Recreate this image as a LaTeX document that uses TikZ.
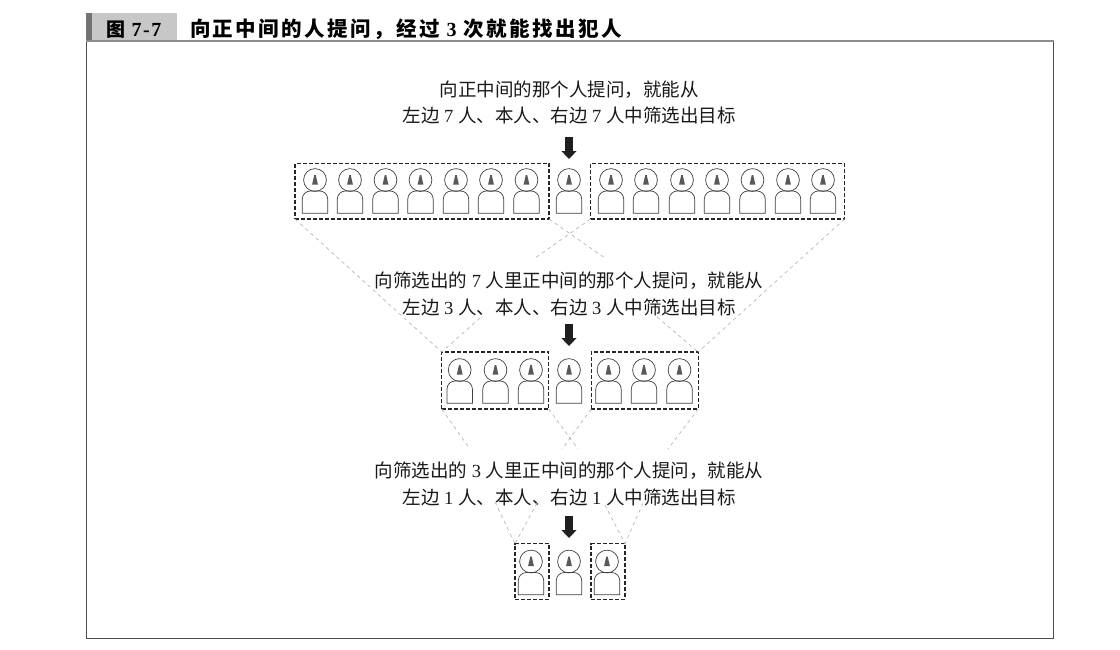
\documentclass[tikz,border=0pt]{standalone}
\usepackage{fontspec}
\setmainfont{Liberation Serif}
\newfontfamily\cjk{Noto Sans CJK SC}
\newfontfamily\cjkspaced[LetterSpace=12]{Noto Sans CJK SC}
\newfontfamily\serifspaced[LetterSpace=8]{Liberation Serif}
\newcommand{\dg}[1]{{\rmfamily\fontsize{18.5}{22}\selectfont\ #1\ }}
\newcommand{\dgb}[1]{{\serifspaced\bfseries\fontsize{20}{22}\selectfont\ #1\ }}
\definecolor{ink}{gray}{0.25}
\definecolor{conegray}{gray}{0.35}
\definecolor{linkgray}{gray}{0.72}
\definecolor{bandlight}{gray}{0.78}
\definecolor{banddark}{gray}{0.45}
\definecolor{framegray}{gray}{0.3}
\definecolor{topgray}{gray}{0.55}
\tikzset{
  x=1pt,y=-1pt,
  lbl/.style={inner sep=0pt,outer sep=0pt,font=\cjk\fontsize{18.5}{22}\selectfont,text=black!90,anchor=center},
  ttl/.style={inner sep=0pt,outer sep=0pt,text=black,anchor=west},
  dbox/.style={draw=black!85,line width=1.2pt,dash pattern=on 4pt off 2pt,inner sep=0pt,outer sep=0pt,minimum height=#1},
  dbox/.default=55.5pt,
  link/.style={draw=linkgray,line width=0.7pt,dash pattern=on 3.5pt off 3.5pt},
  person/.pic={
    \draw[ink,line width=0.7pt] (-12.7,33.3) [rounded corners=8pt] -- (-12.7,11) -- (12.7,11) [sharp corners] -- (12.7,33.3) -- cycle;
    \draw[ink,line width=0.7pt] (0,0) circle[radius=11.4];
    \fill[conegray] (-0.7,-5) -- (0.7,-5) -- (2.9,4.5) -- (-2.9,4.5) -- cycle;
  },
  downarr/.pic={
    \fill[black!88] (-3.9,0) -- (3.9,0) -- (3.9,14) -- (7.6,14) -- (0,22) -- (-7.6,14) -- (-3.9,14) -- cycle;
  },
}
\begin{document}
\begin{tikzpicture}
\useasboundingbox (0,0) rectangle (1120,649);
\fill[white] (0,0) rectangle (1120,649);
% header
\fill[bandlight] (86,13) rectangle (177,41);
\fill[banddark] (86,13) rectangle (91.5,41);
\node[ttl,font=\cjk\bfseries\fontsize{19}{22}\selectfont] (figno) at (106,29.5) {图\dgb{7-7}};
\node[ttl,font=\cjkspaced\bfseries\fontsize{20.5}{22}\selectfont] (title) at (190,29.5) {向正中间的人提问，经过\dgb{3}次就能找出犯人};
% frame
\draw[framegray,line width=0.9pt] (86.4,41) -- (86.4,638.6) -- (1053.4,638.6) -- (1053.4,41);
\draw[topgray,line width=1.5pt] (86,41) -- (1054,41);
% texts
\node[lbl] (t1a) at (569,90) {向正中间的那个人提问，就能从};
\node[lbl] (t1b) at (569,115) {左边\dg{7}人、本人、右边\dg{7}人中筛选出目标};
\node[lbl] (t2a) at (569,281) {向筛选出的\dg{7}人里正中间的那个人提问，就能从};
\node[lbl] (t2b) at (569,307) {左边\dg{3}人、本人、右边\dg{3}人中筛选出目标};
\node[lbl] (t3a) at (569,471) {向筛选出的\dg{3}人里正中间的那个人提问，就能从};
\node[lbl] (t3b) at (569,497) {左边\dg{1}人、本人、右边\dg{1}人中筛选出目标};
% arrows
\pic at (569,137) {downarr};
\pic at (569,324) {downarr};
\pic at (569,516) {downarr};
% people row 1
\foreach \px in {315,350,385.5,420.5,456,491,526.5,569,611,646,682,717,752.5,788,823}
  \pic at (\px,180) {person};
% people row 2
\foreach \px in {459.7,495.5,531,569,608.5,644,679.5}
  \pic at (\px,370) {person};
% people row 3
\foreach \px in {531,569,607}
  \pic at (\px,561.5) {person};
% dashed boxes
\node[dbox,minimum width=254pt] (a) at (422,191.3) {};
\node[dbox,minimum width=254pt] (b) at (717.5,191.3) {};
\node[dbox=57pt,minimum width=107pt] (c) at (495.2,380.5) {};
\node[dbox=57pt,minimum width=107pt] (d) at (644.7,380.5) {};
\node[dbox,minimum width=34pt] (e) at (532,571.5) {};
\node[dbox,minimum width=34pt] (f) at (608,571.5) {};
% free ends of interrupted links
\coordinate (p1) at (605,258);
\coordinate (p2) at (657,317);
\coordinate (p3) at (535,258);
\coordinate (p4) at (480,318);
\coordinate (q1) at (470,449);
\coordinate (q2) at (495,502);
\coordinate (q3) at (578,449);
\coordinate (q4) at (605,505);
\coordinate (q5) at (562,449);
\coordinate (q6) at (537,503);
\coordinate (q7) at (668,449);
\coordinate (q8) at (643,503);
% links
\draw[link] (a.south west) -- (c.north west);
\draw[link] (b.south east) -- (d.north east);
\draw[link] (a.south east) -- (p1);
\draw[link] (p2) -- (d.north east);
\draw[link] (b.south west) -- (p3);
\draw[link] (p4) -- (c.north west);
\draw[link] (c.south west) -- (q1);
\draw[link] (q2) -- (e.north west);
\draw[link] (c.south east) -- (q3);
\draw[link] (q4) -- (f.north east);
\draw[link] (d.south west) -- (q5);
\draw[link] (q6) -- (e.north west);
\draw[link] (d.south east) -- (q7);
\draw[link] (q8) -- (f.north east);
\end{tikzpicture}
\end{document}
